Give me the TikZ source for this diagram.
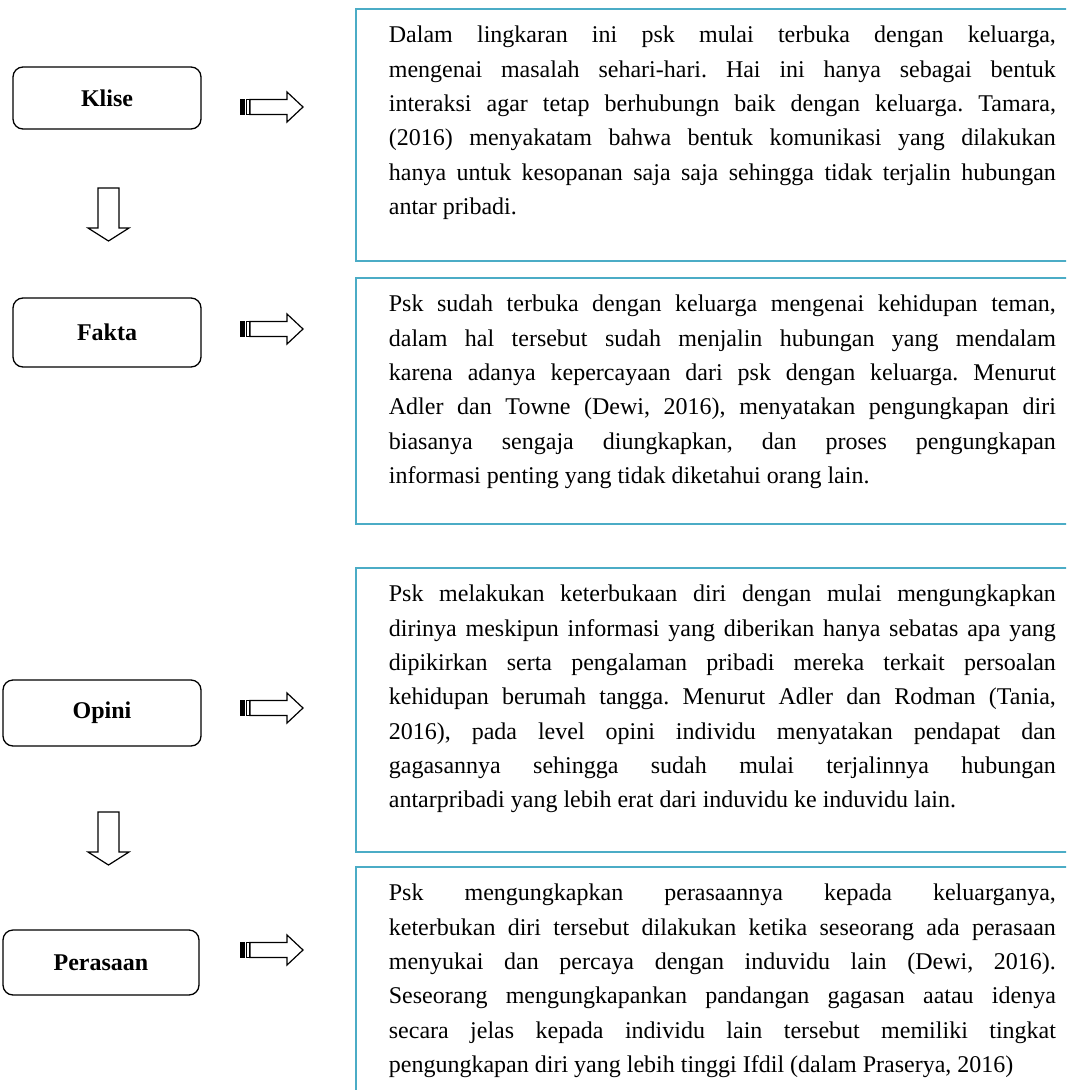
\documentclass[tikz,border=0pt]{standalone}
\usepackage{fontspec}
\setmainfont{Liberation Serif}
\frenchspacing
\definecolor{birulaut}{RGB}{75,172,198}
\newcommand{\isi}[2]{\parbox[c][#1][t]{667pt}{\fontsize{24}{34.3}\selectfont\rule{0pt}{34pt}#2}}

\begin{document}
\begin{tikzpicture}[x=1pt, y=-1pt]
	\tikzset{tahap/.style={rectangle, rounded corners=10pt, draw=black, line width=1.3pt, font=\fontsize{24}{28}\selectfont\bfseries},
		kotak/.style={rectangle, draw=birulaut, line width=1.8pt, anchor=north west, inner xsep=33pt, inner ysep=0pt},
		panah/.style={draw=black, line width=1.2pt, fill=white},
		panahkanan/.pic={
			\draw[fill=black, line width=0.8pt] (0,-7.5) rectangle (4,7.5);
			\draw[line width=0.8pt] (6,-7.5) rectangle (9,7.5);
			\draw[panah] (10,-7.5) -- (47,-7.5) -- (47,-15) -- (63,0) -- (47,15) -- (47,7.5) -- (10,7.5) -- cycle;
		},
		panahbawah/.pic={
			\draw[panah] (-10.5,0) -- (10.5,0) -- (10.5,40) -- (20.5,40) -- (0,53) -- (-20.5,40) -- (-10.5,40) -- cycle;
		}};

	\clip (0,0) rectangle (1066,1090);

	% tahapan
	\node[tahap, minimum width=188pt, minimum height=62pt] (klise)    at (107,   98) {Klise};
	\node[tahap, minimum width=188pt, minimum height=69pt] (fakta)    at (107,  332.5) {Fakta};
	\node[tahap, minimum width=198pt, minimum height=66pt] (opini)    at (102,  713) {Opini};
	\node[tahap, minimum width=196pt, minimum height=65pt] (perasaan) at (101,  962.5) {Perasaan};

	\pic at (108.5, 188) {panahbawah};
	\pic at (108.5, 812) {panahbawah};

	\pic at (240, 107) {panahkanan};
	\pic at (240, 329) {panahkanan};
	\pic at (240, 708) {panahkanan};
	\pic at (240, 950) {panahkanan};

	% penjelasan
	\node[kotak] (isiklise) at (355, 8) {\isi{252pt}{Dalam lingkaran ini psk mulai terbuka dengan keluarga,\linebreak
		mengenai masalah sehari-hari. Hai ini hanya sebagai bentuk\linebreak
		interaksi agar tetap berhubungn baik dengan keluarga. Tamara,\linebreak
		(2016) menyakatam bahwa bentuk komunikasi yang dilakukan\linebreak
		hanya untuk kesopanan saja saja sehingga tidak terjalin hubungan\linebreak
		antar pribadi.}};
	\node[kotak] (isifakta) at (355, 277) {\isi{246pt}{Psk sudah terbuka dengan keluarga mengenai kehidupan teman,\linebreak
		dalam hal tersebut sudah menjalin hubungan yang mendalam\linebreak
		karena adanya kepercayaan dari psk dengan keluarga. Menurut\linebreak
		Adler dan Towne (Dewi, 2016), menyatakan pengungkapan diri\linebreak
		biasanya sengaja diungkapkan, dan proses pengungkapan\linebreak
		informasi penting yang tidak diketahui orang lain.}};
	\node[kotak] (isiopini) at (355, 567) {\isi{284pt}{Psk melakukan keterbukaan diri dengan mulai mengungkapkan\linebreak
		dirinya meskipun informasi yang diberikan hanya sebatas apa yang\linebreak
		dipikirkan serta pengalaman pribadi mereka terkait persoalan\linebreak
		kehidupan berumah tangga. Menurut Adler dan Rodman (Tania,\linebreak
		2016), pada level opini individu menyatakan pendapat dan\linebreak
		gagasannya sehingga sudah mulai terjalinnya hubungan\linebreak
		antarpribadi yang lebih erat dari induvidu ke induvidu lain.}};
	\node[kotak] (isiperasaan) at (355, 866) {\isi{240pt}{Psk mengungkapkan perasaannya kepada keluarganya,\linebreak
		keterbukan diri tersebut dilakukan ketika seseorang ada perasaan\linebreak
		menyukai dan percaya dengan induvidu lain (Dewi, 2016).\linebreak
		Seseorang mengungkapankan pandangan gagasan aatau idenya\linebreak
		secara jelas kepada individu lain tersebut memiliki tingkat\linebreak
		pengungkapan diri yang lebih tinggi Ifdil (dalam Praserya, 2016)}};

\end{tikzpicture}
\end{document}
